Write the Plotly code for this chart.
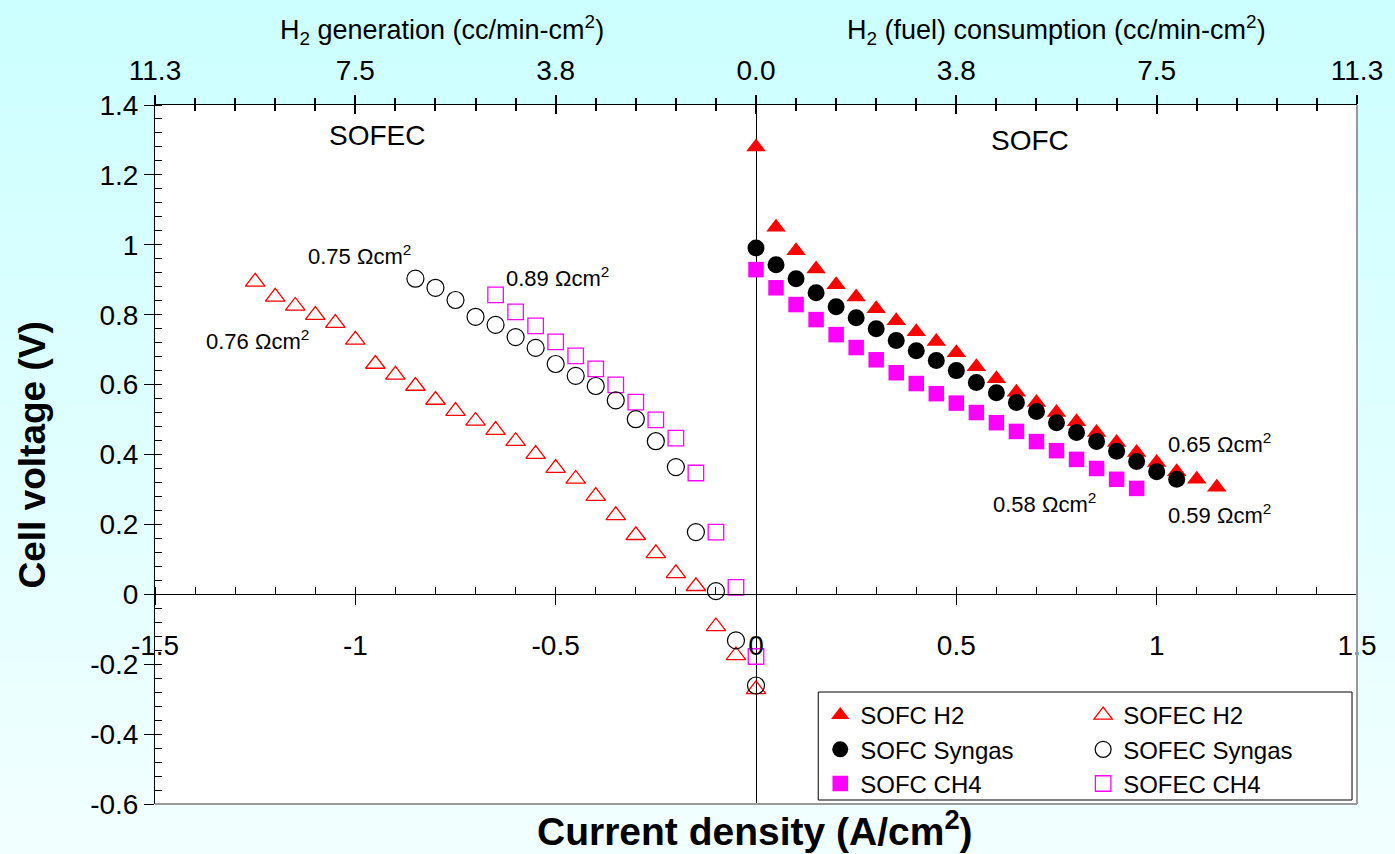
import plotly.graph_objects as go

# ---------------- data ----------------
sofc_h2_x = [0.00, 0.05, 0.10, 0.15, 0.20, 0.25, 0.30, 0.35, 0.40, 0.45, 0.50, 0.55,
             0.60, 0.65, 0.70, 0.75, 0.80, 0.85, 0.90, 0.95, 1.00, 1.05, 1.10, 1.15]
sofc_h2_v = [1.28, 1.05, 0.983, 0.931, 0.886, 0.851, 0.817, 0.783, 0.751, 0.723, 0.691, 0.651,
             0.617, 0.578, 0.549, 0.520, 0.494, 0.463, 0.434, 0.406, 0.377, 0.351, 0.329, 0.306]

sofc_syn_x = [0.00, 0.05, 0.10, 0.15, 0.20, 0.25, 0.30, 0.35, 0.40, 0.45, 0.50,
              0.55, 0.60, 0.65, 0.70, 0.75, 0.80, 0.85, 0.90, 0.95, 1.00, 1.05]
sofc_syn_v = [0.991, 0.943, 0.903, 0.863, 0.823, 0.791, 0.760, 0.726, 0.697, 0.669, 0.640,
              0.606, 0.577, 0.549, 0.523, 0.491, 0.463, 0.437, 0.409, 0.380, 0.351, 0.329]

sofc_ch4_x = [0.00, 0.05, 0.10, 0.15, 0.20, 0.25, 0.30, 0.35, 0.40, 0.45,
              0.50, 0.55, 0.60, 0.65, 0.70, 0.75, 0.80, 0.85, 0.90, 0.95]
sofc_ch4_v = [0.929, 0.877, 0.829, 0.786, 0.743, 0.706, 0.671, 0.634, 0.603, 0.574,
              0.547, 0.520, 0.491, 0.466, 0.437, 0.411, 0.386, 0.360, 0.329, 0.303]

sofec_h2_x = [-1.25, -1.20, -1.15, -1.10, -1.05, -1.00, -0.95, -0.90, -0.85, -0.80, -0.75, -0.70, -0.65,
              -0.60, -0.55, -0.50, -0.45, -0.40, -0.35, -0.30, -0.25, -0.20, -0.15, -0.10, -0.05, 0.00]
sofec_h2_v = [0.894, 0.851, 0.825, 0.799, 0.776, 0.728, 0.659, 0.628, 0.596, 0.556, 0.524, 0.496, 0.470,
              0.438, 0.401, 0.361, 0.330, 0.281, 0.226, 0.169, 0.117, 0.060, 0.023, -0.092, -0.175, -0.272]

sofec_syn_x = [-0.85, -0.80, -0.75, -0.70, -0.65, -0.60, -0.55, -0.50, -0.45,
               -0.40, -0.35, -0.30, -0.25, -0.20, -0.15, -0.10, -0.05, 0.00]
sofec_syn_v = [0.903, 0.877, 0.842, 0.794, 0.771, 0.736, 0.705, 0.659, 0.625,
               0.596, 0.555, 0.501, 0.438, 0.364, 0.178, 0.009, -0.132, -0.261]

sofec_ch4_x = [-0.65, -0.60, -0.55, -0.50, -0.45, -0.40, -0.35,
               -0.30, -0.25, -0.20, -0.15, -0.10, -0.05, 0.00]
sofec_ch4_v = [0.857, 0.808, 0.768, 0.722, 0.682, 0.645, 0.599,
               0.550, 0.499, 0.447, 0.347, 0.178, 0.020, -0.178]

x_tickvals = [-1.5, -1.0, -0.5, 0.0, 0.5, 1.0, 1.5]
x_ticktext = ["-1.5", "-1", "-0.5", "0", "0.5", "1", "1.5"]
y_tickvals = [-0.6, -0.4, -0.2, 0.0, 0.2, 0.4, 0.6, 0.8, 1.0, 1.2, 1.4]
y_ticktext = ["-0.6", "-0.4", "-0.2", "0", "0.2", "0.4", "0.6", "0.8", "1", "1.2", "1.4"]
top_ticktext = ["11.3", "7.5", "3.8", "0.0", "3.8", "7.5", "11.3"]

resist_labels = ["0.75 Ωcm<sup>2</sup>", "0.89 Ωcm<sup>2</sup>", "0.76 Ωcm<sup>2</sup>",
                 "0.65 Ωcm<sup>2</sup>", "0.58 Ωcm<sup>2</sup>", "0.59 Ωcm<sup>2</sup>"]
resist_pos_x = [-0.99, -0.495, -1.245, 1.156, 0.721, 1.156]
resist_pos_y = [0.972, 0.909, 0.729, 0.434, 0.262, 0.231]

FONT = "Liberation Sans, Arial, sans-serif"
RED = "#ff0000"
MAG = "#ff00ff"

fig = go.Figure()

def add(x, y, name, symbol, color, size, legend, rank, lw=0):
    fig.add_trace(go.Scatter(
        x=x, y=y, mode="markers", name=name, legend=legend, legendrank=rank,
        marker=dict(symbol=symbol, color=color, size=size,
                    line=dict(width=lw, color=color)),
    ))

add(sofc_h2_x, sofc_h2_v, "SOFC H2", "triangle-up", RED, 17, "legend", 1)
add(sofc_ch4_x, sofc_ch4_v, "SOFC CH4", "square", MAG, 15.5, "legend", 3)
add(sofc_syn_x, sofc_syn_v, "SOFC Syngas", "circle", "black", 17, "legend", 2)
add(sofec_h2_x, sofec_h2_v, "SOFEC H2", "triangle-up-open", RED, 17, "legend2", 1, 1.3)
add(sofec_ch4_x, sofec_ch4_v, "SOFEC CH4", "square-open", MAG, 15.5, "legend2", 3, 1.3)
add(sofec_syn_x, sofec_syn_v, "SOFEC Syngas", "circle-open", "black", 17, "legend2", 2, 1.2)

# dummy traces so that the top axes exist
fig.add_trace(go.Scatter(x=[], y=[], xaxis="x2", showlegend=False))
fig.add_trace(go.Scatter(x=[], y=[], xaxis="x3", showlegend=False))

# ---------------- background gradient ----------------
shapes = []
y_bot, y_top = -50 / 699, 804 / 699
n = 40
for i in range(n):
    t = i / (n - 1)
    r = int(round(242 + (204 - 242) * t))
    shapes.append(dict(type="rect", xref="paper", yref="paper", layer="below",
                       x0=-0.14, x1=1.05,
                       y0=y_bot + (y_top - y_bot) * i / n,
                       y1=y_bot + (y_top - y_bot) * (i + 1) / n + 0.002,
                       fillcolor=f"rgb({r},255,255)", line=dict(width=0)))
shapes.append(dict(type="rect", xref="paper", yref="paper", layer="below",
                   x0=0, x1=1, y0=0, y1=1, fillcolor="white", line=dict(width=0)))
# frame (right / bottom)
shapes.append(dict(type="line", xref="paper", yref="paper", x0=1, x1=1, y0=0, y1=1,
                   line=dict(color="#9a9a9a", width=2)))
shapes.append(dict(type="line", xref="paper", yref="paper", x0=0, x1=1, y0=0, y1=0,
                   line=dict(color="#9a9a9a", width=2)))
# legend box
shapes.append(dict(type="rect", xref="paper", yref="paper", layer="above",
                   x0=(821 - 155) / 1207, x1=(1357 - 155) / 1207,
                   y0=(804 - 800) / 699, y1=(804 - 692) / 699,
                   fillcolor="white", line=dict(color="black", width=1)))

def ann(text, x, y, size, xref="paper", yref="paper", angle=0):
    return dict(text=text, x=x, y=y, xref=xref, yref=yref, showarrow=False,
                xanchor="center", yanchor="middle", textangle=angle,
                font=dict(size=size, color="black", family=FONT))

annotations = []
for txt, xx, yy in zip(resist_labels, resist_pos_x, resist_pos_y):
    annotations.append(ann(txt, xx, yy, 22, "x", "y"))
annotations.append(ann("SOFEC", -0.945, 1.313, 28, "x", "y"))
annotations.append(ann("SOFC", 0.684, 1.299, 28, "x", "y"))
annotations.append(ann("H<sub>2</sub> generation (cc/min-cm<sup>2</sup>)",
                       (443 - 155) / 1207, (804 - 30) / 699, 27))
annotations.append(ann("H<sub>2</sub> (fuel) consumption (cc/min-cm<sup>2</sup>)",
                       (1060 - 155) / 1207, (804 - 30) / 699, 27))
annotations.append(ann("<b>Cell voltage (V)</b>", (31 - 155) / 1207, (804 - 455) / 699, 37,
                       angle=-90))
annotations.append(ann("<b>Current density (A/cm<sup>2</sup>)</b>",
                       (757 - 155) / 1207, (804 - 828) / 699, 39))

tickfont = dict(size=28, color="black", family=FONT)
legfont = dict(size=24, color="black", family=FONT)

fig.update_layout(
    width=1395, height=854,
    margin=dict(l=155, r=33, t=105, b=50),
    paper_bgcolor="rgb(225,255,255)",
    plot_bgcolor="white",
    font=dict(family=FONT, color="black"),
    shapes=shapes,
    annotations=annotations,
    xaxis=dict(range=[-1.5, 1.5], anchor="free", position=0.3, showline=True,
               linecolor="black", linewidth=1, showgrid=False,
               zeroline=True, zerolinecolor="black", zerolinewidth=1,
               tickmode="array", tickvals=x_tickvals, ticktext=x_ticktext,
               ticks="outside", ticklen=10, tickwidth=1, tickcolor="black",
               tickfont=tickfont, ticklabelstandoff=16,
               minor=dict(ticks="inside", dtick=0.1, tick0=0, ticklen=7,
                          tickwidth=1, tickcolor="black", showgrid=False)),
    xaxis2=dict(range=[-1.5, 1.5], overlaying="x", side="top", anchor="y",
                showline=True, linecolor="black", linewidth=1, showgrid=False, zeroline=False,
                tickmode="array", tickvals=x_tickvals, ticktext=top_ticktext,
                ticks="outside", ticklen=9, tickwidth=1.5, tickcolor="black",
                tickfont=tickfont, ticklabelstandoff=4,
                minor=dict(ticks="outside", dtick=0.1, tick0=0, ticklen=6,
                           tickwidth=1.5, tickcolor="black", showgrid=False)),
    xaxis3=dict(range=[-1.5, 1.5], overlaying="x", side="top", anchor="y",
                showline=False, showgrid=False, zeroline=False, showticklabels=False,
                tickmode="array", tickvals=x_tickvals,
                ticks="inside", ticklen=9, tickwidth=1.5, tickcolor="black",
                minor=dict(ticks="inside", dtick=0.1, tick0=0, ticklen=6,
                           tickwidth=1.5, tickcolor="black", showgrid=False)),
    yaxis=dict(range=[-0.6, 1.4], showline=True, linecolor="black", linewidth=1,
               showgrid=False, zeroline=False,
               tickmode="array", tickvals=y_tickvals, ticktext=y_ticktext,
               ticks="outside", ticklen=10, tickwidth=1, tickcolor="black",
               tickfont=tickfont,
               minor=dict(ticks="inside", dtick=0.04, tick0=-0.6, ticklen=7,
                          tickwidth=1, tickcolor="black", showgrid=False)),
    legend=dict(x=(823 - 155) / 1207, y=(804 - 693) / 699, xanchor="left", yanchor="top",
                bgcolor="rgba(0,0,0,0)", borderwidth=0, tracegroupgap=0,
                font=legfont, traceorder="normal"),
    legend2=dict(x=(1087 - 155) / 1207, y=(804 - 693) / 699, xanchor="left", yanchor="top",
                 bgcolor="rgba(0,0,0,0)", borderwidth=0, tracegroupgap=0,
                 font=legfont, traceorder="normal"),
)

fig.write_html("out.html")
